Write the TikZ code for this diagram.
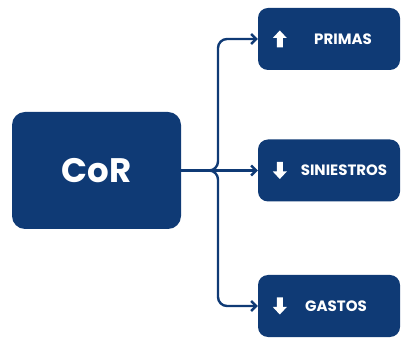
\documentclass[tikz,border=0pt]{standalone}
\usepackage{fontspec}
\setmainfont{Poppins}
\usetikzlibrary{arrows.meta,positioning}

\definecolor{navy}{RGB}{15,58,117}

\tikzset{
  mainbox/.style={fill=navy, rounded corners=13pt, minimum width=169pt, minimum height=117pt,
    text=white, font=\bfseries\fontsize{34}{34}\selectfont},
  itembox/.style={fill=navy, rounded corners=10pt, minimum width=142pt, minimum height=62pt},
  itemtext/.style={text=white, font=\bfseries\fontsize{15}{15}\selectfont},
  conn/.style={draw=navy, line width=2.4pt, rounded corners=9pt, -{Straight Barb[length=5pt,width=10pt]}},
  upicon/.pic={\fill[white] (-7,1) -- (0,8.5) -- (7,1) -- (3,1) -- (3,-8.5) -- (-3,-8.5) -- (-3,1) -- cycle;},
  downicon/.pic={\fill[white] (-7,-1) -- (0,-8.5) -- (7,-1) -- (3,-1) -- (3,8.5) -- (-3,8.5) -- (-3,-1) -- cycle;}
}

\begin{document}
\begin{tikzpicture}[x=1pt,y=1pt]
\useasboundingbox (0,0) rectangle (403,339);

\node[mainbox] (cor) at (96.5,168.5) {CoR};

\node[itembox] (primas) at (329,300) {};
\node[itembox] (siniestros) at (329,168.5) {};
\node[itembox] (gastos) at (329,33) {};

\node[itemtext] (primaslbl) at ([xshift=14pt]primas.center) {PRIMAS};
\node[itemtext] (siniestroslbl) at ([xshift=15pt]siniestros.center) {SINIESTROS};
\node[itemtext] (gastoslbl) at ([xshift=7pt]gastos.center) {GASTOS};

\pic at ([xshift=22pt]primas.west) {upicon};
\pic at ([xshift=22pt]siniestros.west) {downicon};
\pic at ([xshift=22pt]gastos.west) {downicon};

\coordinate (split) at (218,168.5);

\draw[conn] (cor.east) -- (split) |- (primas.west);
\draw[conn] (cor.east) -- (siniestros.west);
\draw[conn] (cor.east) -- (split) |- (gastos.west);

\end{tikzpicture}
\end{document}
